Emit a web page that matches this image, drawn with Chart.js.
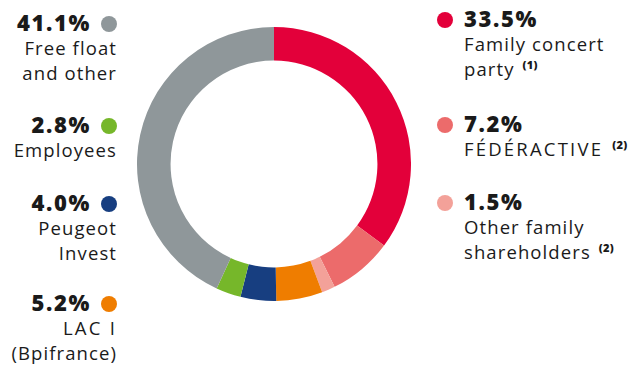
<!DOCTYPE html>
<html>
<head>
<meta charset="utf-8">
<script src="https://cdn.jsdelivr.net/npm/chart.js@4"></script>
<style>
  html, body { margin:0; padding:0; background:#fff; }
  body { width:632px; height:367px; position:relative; overflow:hidden; font-family: "Open Sans", Lato, sans-serif; color:#1a1a1a; }
  #wrap { position:absolute; left:137px; top:27px; width:274px; height:274px; }
  .blk { position:absolute; }
  .blk.left { right:515px; text-align:right; }
  .blk.right { left:437px; text-align:left; }
  .pct { font-weight:800; font-size:22px; line-height:25px; white-space:nowrap; letter-spacing:1.6px; }
  .lbl { font-size:18.5px; line-height:25px; white-space:nowrap; letter-spacing:1.1px; }
  .lbl.caps { letter-spacing:2.2px; }
  .dot { display:inline-block; width:16px; height:16px; border-radius:50%; vertical-align:-1px; }
  .left .dot { margin-left:10px; }
  .right .dot { margin-right:11px; }
  .right .lbl { padding-left:27px; }
  sup { font-size:11px; font-weight:800; vertical-align:7px; line-height:0; margin-left:2px; letter-spacing:0.3px; }
</style>
</head>
<body>
<div id="wrap"><canvas id="c" width="274" height="274"></canvas></div>
<script>
// ---- data (clockwise from 12 o'clock) ----
const categories = ["Family concert party", "FÉDÉRACTIVE", "Other family shareholders", "LAC I (Bpifrance)", "Peugeot Invest", "Employees", "Free float and other"];
const labelLines = [["Family concert", "party"], ["FÉDÉRACTIVE"], ["Other family", "shareholders"], ["LAC I", "(Bpifrance)"], ["Peugeot", "Invest"], ["Employees"], ["Free float", "and other"]];
const footnotes = ["(1)", "(2)", "(2)", "", "", "", ""];
const values = [33.5, 7.2, 1.5, 5.2, 4.0, 2.8, 41.1];
const percentLabels = ["33.5%", "7.2%", "1.5%", "5.2%", "4.0%", "2.8%", "41.1%"];

// ---- styles / layout (not data) ----
const colors = ["#e3003a", "#ec6b6b", "#f3a199", "#ef7d00", "#173e80", "#76b72a", "#8f979a"];
const side = ["right", "right", "right", "left", "left", "left", "left"];
const blockTop = [5.7, 111.3, 189, 290, 190, 112.3, 9.7];

categories.forEach((cat, i) => {
  const d = document.createElement('div');
  d.className = 'blk ' + side[i];
  d.style.top = blockTop[i] + 'px';
  const p = document.createElement('div');
  p.className = 'pct';
  const dot = '<span class="dot" style="background:' + colors[i] + '"></span>';
  p.innerHTML = side[i] === 'left' ? percentLabels[i] + dot : dot + percentLabels[i];
  d.appendChild(p);
  labelLines[i].forEach((ln, j) => {
    const l = document.createElement('div');
    l.className = 'lbl' + (ln === ln.toUpperCase() && /[A-Z]{3}/.test(ln) ? ' caps' : '');
    l.textContent = ln;
    if (j === labelLines[i].length - 1 && footnotes[i]) {
      const s = document.createElement('sup');
      s.textContent = footnotes[i];
      l.appendChild(document.createTextNode(' '));
      l.appendChild(s);
    }
    d.appendChild(l);
  });
  document.body.appendChild(d);
});

new Chart(document.getElementById('c'), {
  type: 'doughnut',
  data: {
    labels: categories,
    datasets: [{ data: values, backgroundColor: colors, borderWidth: 0, hoverOffset: 0 }]
  },
  options: {
    responsive: false,
    animation: false,
    cutout: '75.5%',
    layout: { padding: 0 },
    plugins: { legend: { display: false }, tooltip: { enabled: false } }
  }
});
</script>
</body>
</html>
